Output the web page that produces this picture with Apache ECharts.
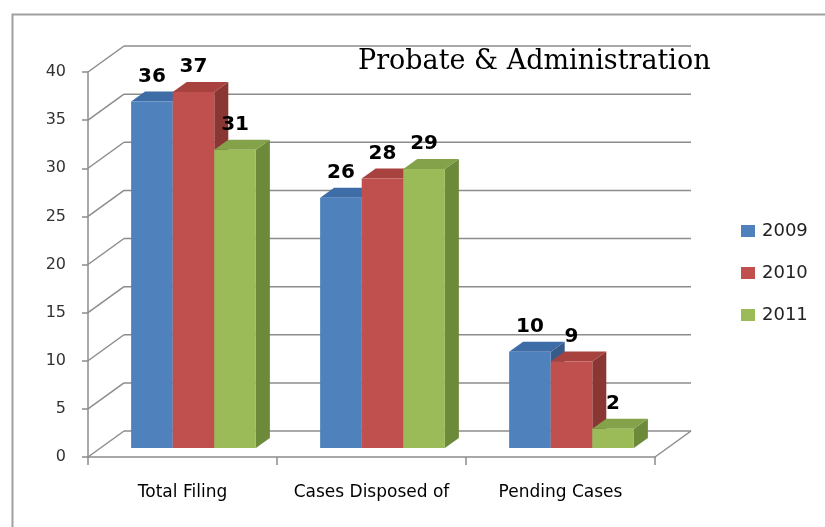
<!DOCTYPE html>
<html>
<head>
<meta charset="utf-8">
<script src="https://cdn.jsdelivr.net/npm/echarts@6/dist/echarts.min.js"></script>
<style>html,body{margin:0;padding:0;background:#fff}#main{width:825px;height:527px}</style>
</head>
<body>
<div id="main"></div>
<script>
const categories = ['Total Filing', 'Cases Disposed of', 'Pending Cases'];
const years = ['2009', '2010', '2011'];
const values2009 = [36, 26, 10];
const values2010 = [37, 28, 9];
const values2011 = [31, 29, 2];
const yTicks = [0, 5, 10, 15, 20, 25, 30, 35, 40];

const seriesValues = [values2009, values2010, values2011];
const frontColors = ['#4F81BD', '#C0504D', '#9BBB59'];
const topColors = ['#3E6CA6', '#A8423F', '#84A24A'];
const sideColors = ['#375C89', '#8A3633', '#6C8A3A'];

// 3D projection constants (pixels)
const DEPTH = [36, -26];     // full floor depth
const FRONT = [11, -9];      // bar front plane offset
const BDEPTH = [14, -10];    // bar depth

const chart = echarts.init(document.getElementById('main'), null, {renderer: 'canvas'});

function frameRender(params, api) {
  const cs = params.coordSys;
  const v = api.value(0);
  const p = api.coord([0, v]);
  const y = p[1];
  const x0 = cs.x;
  const lineStyle = {stroke: '#8c8c8c', lineWidth: 1.5};
  const children = [
    {type: 'line', shape: {x1: x0, y1: y, x2: x0 + DEPTH[0], y2: y + DEPTH[1]}, style: lineStyle},
    {type: 'line', shape: {x1: x0 + DEPTH[0], y1: y + DEPTH[1], x2: x0 + DEPTH[0] + cs.width, y2: y + DEPTH[1]}, style: lineStyle}
  ];
  if (v === 0) {
    children.push({type: 'line', shape: {x1: x0 + cs.width, y1: y, x2: x0 + cs.width + DEPTH[0], y2: y + DEPTH[1]}, style: lineStyle});
  }
  return {type: 'group', silent: true, children: children};
}

function makeBarRender(s) {
  return function (params, api) {
    const cat = api.value(0);
    const val = api.value(1);
    const base = api.coord([cat, 0]);
    const top = api.coord([cat, val]);
    const bandW = api.size([1, 0])[0];
    const barW = bandW * 0.22;
    const groupW = barW * 3;
    const xl = base[0] - groupW / 2 + s * barW + FRONT[0];
    const xr = xl + barW;
    const yb = base[1] + FRONT[1];
    const yt = top[1] + FRONT[1];
    const dx = BDEPTH[0], dy = BDEPTH[1];
    return {
      type: 'group',
      children: [
        {type: 'polygon', shape: {points: [[xr, yt], [xr + dx, yt + dy], [xr + dx, yb + dy], [xr, yb]]}, style: {fill: sideColors[s]}},
        {type: 'polygon', shape: {points: [[xl, yt], [xr, yt], [xr + dx, yt + dy], [xl + dx, yt + dy]]}, style: {fill: topColors[s]}},
        {type: 'rect', shape: {x: xl, y: yt, width: barW, height: yb - yt}, style: {fill: frontColors[s]}},
        {type: 'text', x: (xl + xr) / 2, y: yt - 25, style: {text: String(val), fill: '#000', font: 'bold 20px "DejaVu Sans", sans-serif', align: 'center', verticalAlign: 'middle'}}
      ]
    };
  };
}

const series = [
  {
    type: 'custom',
    name: 'frame',
    renderItem: frameRender,
    data: yTicks.map(v => [v]),
    encode: {y: 0},
    silent: true,
    z: 1
  }
];
years.forEach((yr, s) => {
  series.push({
    type: 'custom',
    name: yr,
    renderItem: makeBarRender(s),
    data: seriesValues[s].map((v, i) => [i, v]),
    encode: {x: 0, y: 1},
    itemStyle: {color: frontColors[s]},
    z: 5 + s
  });
});

chart.setOption({
  animation: false,
  backgroundColor: '#fff',
  graphic: [
    {type: 'rect', left: 10, top: 12, shape: {width: 840, height: 540}, style: {fill: 'none', stroke: '#a0a0a0', lineWidth: 2}, z: 0}
  ],
  title: {
    text: 'Probate & Administration',
    left: 353,
    top: 43,
    textStyle: {fontFamily: '"DejaVu Serif", serif', fontSize: 27, fontWeight: 'normal', color: '#000'}
  },
  legend: {
    data: years,
    orient: 'vertical',
    left: 736,
    top: 217,
    itemWidth: 14,
    itemHeight: 12,
    itemGap: 24,
    icon: 'rect',
    textStyle: {fontFamily: '"DejaVu Sans", sans-serif', fontSize: 18, color: '#222', padding: [0, 0, 0, 2]}
  },
  grid: {left: 88, top: 72, width: 567, height: 385},
  xAxis: {
    type: 'category',
    data: categories,
    boundaryGap: true,
    axisLine: {show: true, lineStyle: {color: '#8c8c8c', width: 1.5}},
    axisTick: {show: true, interval: 0, length: 8, lineStyle: {color: '#8c8c8c', width: 1.5}},
    axisLabel: {interval: 0, margin: 27, color: '#000', fontFamily: '"DejaVu Sans", sans-serif', fontSize: 17},
    splitLine: {show: false}
  },
  yAxis: {
    type: 'value',
    min: 0,
    max: 40,
    interval: 5,
    axisLine: {show: true, lineStyle: {color: '#8c8c8c', width: 1.5}},
    axisTick: {show: true, length: 6, lineStyle: {color: '#8c8c8c', width: 1.5}},
    axisLabel: {margin: 22, color: '#333', fontFamily: '"DejaVu Sans", sans-serif', fontSize: 16},
    splitLine: {show: false}
  },
  series: series
});
</script>
</body>
</html>
